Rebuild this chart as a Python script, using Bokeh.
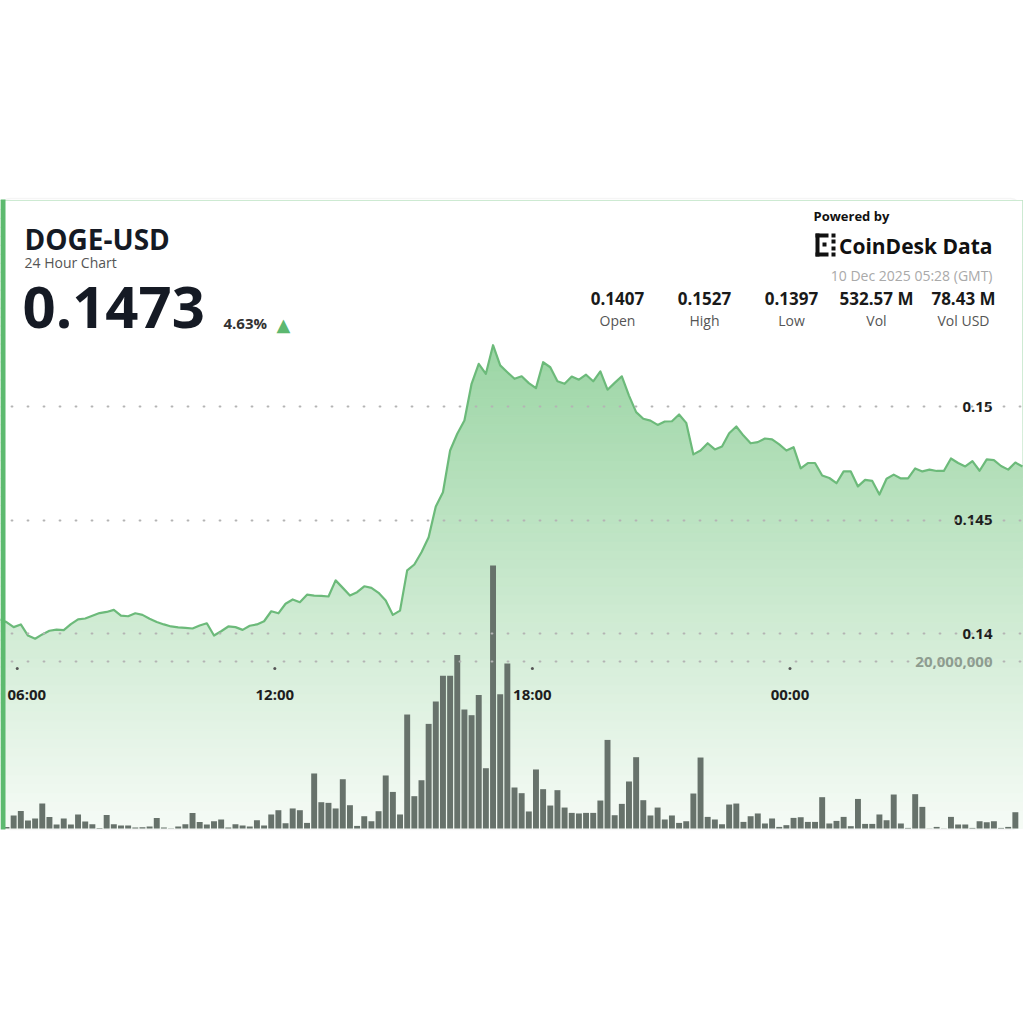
import datetime as dt
from bokeh.plotting import figure
from bokeh.models import Range1d, Label, BoxAnnotation, Grid, FixedTicker
from bokeh.core.properties import value
from bokeh.embed import file_html
from bokeh.resources import INLINE

# ---------------- data ----------------
price_start = dt.datetime(2025, 12, 9, 5, 35)   # 10-minute closes
price = [
    0.14062, 0.14050, 0.14028, 0.14040, 0.13991, 0.13977, 0.13996, 0.14012, 0.14017, 0.14015,
    0.14041, 0.14062, 0.14066, 0.14078, 0.14090, 0.14095, 0.14104, 0.14079, 0.14076, 0.14089,
    0.14082, 0.14065, 0.14051, 0.14040, 0.14031, 0.14027, 0.14025, 0.14022, 0.14035, 0.14045,
    0.13991, 0.14010, 0.14031, 0.14028, 0.14016, 0.14034, 0.14040, 0.14054, 0.14098, 0.14089,
    0.14131, 0.14150, 0.14138, 0.14171, 0.14167, 0.14166, 0.14163, 0.14234, 0.14201, 0.14167,
    0.14182, 0.14208, 0.14201, 0.14179, 0.14145, 0.14082, 0.14101, 0.14278, 0.14304, 0.14358,
    0.14424, 0.14560, 0.14622, 0.14806, 0.14880, 0.14938, 0.15100, 0.15188, 0.15144, 0.15270,
    0.15181, 0.15151, 0.15122, 0.15133, 0.15103, 0.15081, 0.15195, 0.15173, 0.15111, 0.15100,
    0.15132, 0.15118, 0.15140, 0.15111, 0.15155, 0.15074, 0.15104, 0.15133, 0.15048, 0.14975,
    0.14946, 0.14938, 0.14919, 0.14934, 0.14935, 0.14965, 0.14928, 0.14789, 0.14806, 0.14838,
    0.14811, 0.14824, 0.14882, 0.14912, 0.14872, 0.14838, 0.14843, 0.14859, 0.14855, 0.14833,
    0.14806, 0.14821, 0.14727, 0.14751, 0.14751, 0.14696, 0.14685, 0.14662, 0.14714, 0.14714,
    0.14648, 0.14677, 0.14672, 0.14612, 0.14682, 0.14700, 0.14683, 0.14683, 0.14727, 0.14714,
    0.14722, 0.14716, 0.14716, 0.14771, 0.14751, 0.14736, 0.14759, 0.14717, 0.14767, 0.14764,
    0.14738, 0.14722, 0.14753, 0.14736,
]

volume_start = dt.datetime(2025, 12, 9, 5, 45)  # 10-minute volume bars
volume_millions = [
    0.18, 1.56, 2.10, 0.96, 1.20, 2.99, 1.38, 0.48, 1.20, 0.48,
    1.68, 0.84, 0.51, 0.06, 1.63, 0.51, 0.36, 0.36, 0.12, 0.16,
    0.24, 1.27, 0.12, 0.04, 0.24, 0.51, 1.87, 0.79, 0.48, 0.87,
    1.08, 0.12, 0.51, 0.36, 0.24, 0.99, 0.36, 1.68, 2.19, 0.63,
    2.40, 2.19, 0.67, 6.59, 3.15, 3.07, 2.40, 5.90, 2.79, 0.31,
    1.47, 0.87, 2.07, 6.35, 4.38, 1.68, 13.65, 3.87, 5.78, 12.53,
    15.21, 18.28, 18.28, 20.79, 14.25, 13.57, 16.00, 7.22, 31.50, 16.08,
    19.76, 4.91, 4.23, 2.04, 7.07, 4.71, 2.75, 4.59, 2.51, 1.87,
    1.80, 1.87, 1.87, 3.35, 10.61, 1.59, 2.95, 5.63, 8.54, 3.39,
    1.56, 2.51, 1.08, 1.56, 0.67, 0.87, 4.19, 8.50, 1.39, 1.08,
    0.51, 2.87, 2.99, 0.79, 1.47, 1.80, 0.60, 1.20, 0.19, 0.40,
    1.27, 1.35, 0.79, 0.79, 3.75, 0.60, 0.91, 1.39, 0.28, 3.54,
    0.55, 0.55, 1.68, 0.99, 4.07, 0.60, 0.07, 4.11, 2.59, 0.02,
    0.19, 0.02, 1.39, 0.48, 0.48, 0.07, 0.87, 0.75, 0.87, 0.07,
    0.19, 1.95,
]

price_ticks = [0.14, 0.145, 0.15]
price_tick_labels = ["0.14", "0.145", "0.15"]
volume_ticks = [20_000_000]
volume_tick_labels = ["20,000,000"]
time_ticks = [dt.datetime(2025, 12, 9, 6, 0), dt.datetime(2025, 12, 9, 12, 0),
              dt.datetime(2025, 12, 9, 18, 0), dt.datetime(2025, 12, 10, 0, 0)]
time_tick_labels = ["06:00", "12:00", "18:00", "00:00"]

pair_name = "DOGE-USD"
chart_subtitle = "24 Hour Chart"
last_price = "0.1473"
change_pct = "4.63%"
timestamp_text = "10 Dec 2025 05:28 (GMT)"
stat_values = ["0.1407", "0.1527", "0.1397", "532.57 M", "78.43 M"]
stat_labels = ["Open", "High", "Low", "Vol", "Vol USD"]

# ---------------- layout / scales ----------------
EPOCH = dt.datetime(1970, 1, 1)


def ms(t):
    return (t - EPOCH).total_seconds() * 1000.0


W = H = 1024
PX_PER_MIN = 0.7155
ORIGIN_PX = 6.0
x_start = ms(volume_start) - ORIGIN_PX / PX_PER_MIN * 60000
x_end = ms(volume_start) + (W - ORIGIN_PX) / PX_PER_MIN * 60000

PX_PER_PRICE = 113.5 / 0.005
P_REF, P_REF_PX = 0.15, 406.0


def price_at(py):
    return P_REF - (py - P_REF_PX) / PX_PER_PRICE


VOL_ZERO_PX = 828.0
PX_PER_VOL = 167.0 / 20e6

price_x = [ms(price_start + dt.timedelta(minutes=10 * i)) for i in range(len(price))]
vol_x = [ms(volume_start + dt.timedelta(minutes=10 * i)) for i in range(len(volume_millions))]
volume = [v * 1e6 for v in volume_millions]

p = figure(width=W, height=H, x_range=Range1d(x_start, x_end),
           y_range=Range1d(price_at(H), price_at(0)),
           x_axis_location=None, y_axis_location=None,
           toolbar_location=None, output_backend="svg", min_border=0,
           outline_line_color=None, background_fill_color="white",
           border_fill_color="white")
p.grid.visible = False
p.extra_y_ranges = {"vol": Range1d(-(H - VOL_ZERO_PX) / PX_PER_VOL, VOL_ZERO_PX / PX_PER_VOL),
                    "px": Range1d(H, 0)}
p.extra_x_ranges = {"px": Range1d(0, W)}

FONT = "Open Sans"

# card
p.add_layout(BoxAnnotation(left=0, right=1020, top=198, bottom=829,
                           x_range_name="px", y_range_name="px",
                           fill_color="white", fill_alpha=1.0,
                           line_color="#dedede", line_width=1.5,
                           border_radius=10, level="underlay"))

# gradient area under price line (bands + white mask above the line)
CARD_TOP_PX, CARD_BOT_PX = 200.0, 828.0
TOP_RGB, BOT_RGB = (155, 213, 164), (246, 251, 246)
GRAD_TOP_PX = 342.0
N = 70
bt, bb, cols = [], [], []
for i in range(N):
    y_lo = CARD_BOT_PX - i * (CARD_BOT_PX - CARD_TOP_PX) / N
    y_hi = CARD_BOT_PX - (i + 1) * (CARD_BOT_PX - CARD_TOP_PX) / N
    yc = 0.5 * (y_lo + y_hi)
    t = min(max((yc - GRAD_TOP_PX) / (CARD_BOT_PX - GRAD_TOP_PX), 0.0), 1.0)
    rgb = tuple(int(round(a + (b - a) * t)) for a, b in zip(TOP_RGB, BOT_RGB))
    bb.append(price_at(y_lo))
    bt.append(price_at(y_hi))
    cols.append("#%02x%02x%02x" % rgb)
p.quad(left=[price_x[0]] * N, right=[price_x[-1]] * N, bottom=bb, top=bt,
       fill_color=cols, line_color=cols, line_width=1)
p.varea(x=price_x, y1=price, y2=[price_at(CARD_TOP_PX)] * len(price),
        fill_color="white", fill_alpha=1.0)
p.line(price_x, price, line_color="#6cba7a", line_width=2.2, line_join="round")

# volume bars
p.vbar(x=vol_x, top=volume, bottom=0, width=8.3 * 60000, y_range_name="vol",
       fill_color="#67726b", line_color=None)

# dotted grid lines
p.add_layout(Grid(dimension=1, ticker=FixedTicker(ticks=price_ticks),
                  grid_line_color="#b4b4b4", grid_line_width=1.8,
                  grid_line_dash="1 15", grid_line_dash_offset=5,
                  grid_line_cap="round", level="annotation"))
p.add_layout(Grid(dimension=1, ticker=FixedTicker(ticks=volume_ticks), y_range_name="vol",
                  grid_line_color="#b4b4b4", grid_line_width=1.8,
                  grid_line_dash="1 15", grid_line_dash_offset=5,
                  grid_line_cap="round", level="annotation"))

# tick labels
RIGHT_PX = 992
p.text(x=[RIGHT_PX] * len(price_ticks), y=price_ticks, text=price_tick_labels,
       x_range_name="px", text_font=value(FONT), text_font_size="15px",
       text_font_style="bold", text_color="#1e1e1e", text_align="right",
       text_baseline="middle")
p.text(x=[RIGHT_PX] * len(volume_ticks), y=volume_ticks, text=volume_tick_labels,
       x_range_name="px", y_range_name="vol", text_font=value(FONT),
       text_font_size="15px", text_font_style="bold", text_color="#8d9c8f",
       text_align="right", text_baseline="middle")
tx = [ms(t) for t in time_ticks]
p.scatter(x=tx, y=[668] * len(tx), y_range_name="px", size=3,
          fill_color="#555555", line_color=None)
# first time label would cross the card's left edge: left-align it inside the card
p.add_layout(Label(x=7, y=693, text=time_tick_labels[0], x_range_name="px",
                   y_range_name="px", text_font=FONT, text_font_size="15px",
                   text_font_style="bold", text_color="#1e1e1e",
                   text_align="left", text_baseline="middle"))
p.text(x=tx[1:], y=[693] * (len(tx) - 1), text=time_tick_labels[1:], y_range_name="px",
       text_font=value(FONT), text_font_size="15px", text_font_style="bold",
       text_color="#1e1e1e", text_align="center", text_baseline="middle")

# left green accent
p.add_layout(BoxAnnotation(left=0, right=5, top=199, bottom=829,
                           x_range_name="px", y_range_name="px",
                           fill_color="#5dba6f", fill_alpha=1.0, line_color=None))


def lab(x, y, text, size, color, style="normal", align="left", font=FONT):
    p.add_layout(Label(x=x, y=y, text=text, x_range_name="px", y_range_name="px",
                       text_font=font, text_font_size=size, text_font_style=style,
                       text_color=color, text_align=align, text_baseline="middle"))


# header (left)
lab(24, 238, pair_name, "28px", "#151a24", "bold")
lab(24, 262, chart_subtitle, "14px", "#555555")
lab(22, 307, last_price, "58px", "#151a24", "bold")
lab(223, 322.5, change_pct, "15px", "#333333", "bold")
lab(276, 324, "\u25B2", "18px", "#5cb870", font="DejaVu Sans")

# header (right)
lab(813, 215, "Powered by", "13px", "#111111", "bold")
lab(992, 245.5, "CoinDesk Data", "21px", "#111111", "bold", align="right")
lab(992, 274.5, timestamp_text, "14px", "#a9a9a9", align="right")

# CoinDesk logo mark
logo_parts = [(815, 819, 233, 256), (815, 828, 233, 237), (815, 828, 252, 256),
              (822, 826, 242, 246), (831, 835, 233, 237), (831, 835, 252, 256),
              (831, 835, 239, 243), (831, 835, 246, 250)]
for (l, r, t, b) in logo_parts:
    p.add_layout(BoxAnnotation(left=l, right=r, top=t, bottom=b,
                               x_range_name="px", y_range_name="px",
                               fill_color="#111111", fill_alpha=1.0, line_color=None))

stat_x = [617, 704, 791, 876, 963]
p.text(x=stat_x, y=[297.5] * len(stat_x), text=stat_values, x_range_name="px",
       y_range_name="px", text_font=value(FONT), text_font_size="17px",
       text_font_style="bold", text_color="#1a1a1a", text_align="center",
       text_baseline="middle")
p.text(x=stat_x, y=[320] * len(stat_x), text=stat_labels, x_range_name="px",
       y_range_name="px", text_font=value(FONT), text_font_size="14px",
       text_color="#555555", text_align="center", text_baseline="middle")

open("out.html", "w").write(file_html(p, INLINE))
